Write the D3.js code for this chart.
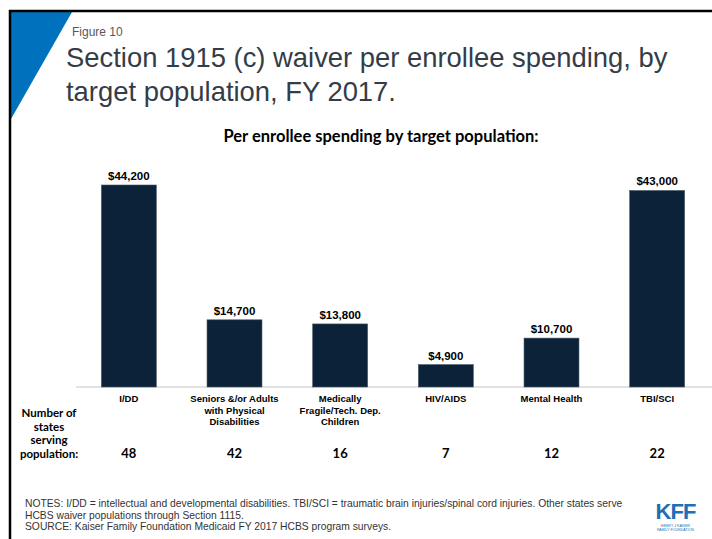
<!DOCTYPE html>
<html>
<head>
    <meta charset="utf-8">
    <title>Figure 10</title>
    <script src="https://cdnjs.cloudflare.com/ajax/libs/d3/7.8.5/d3.min.js"></script>
    <style>
        body { margin: 0; background: #fff; }
        svg { display: block; }
        .arial { font-family: "Liberation Sans", Arial, sans-serif; }
        .calibri { font-family: Lato, "Open Sans", sans-serif; }
    </style>
</head>
<body>
    <svg id="chart" width="712" height="539"></svg>
    <script>
        // chart data
        var categories = ["I/DD", "Seniors &/or Adults|with Physical|Disabilities", "Medically|Fragile/Tech. Dep.|Children", "HIV/AIDS", "Mental Health", "TBI/SCI"]
        var spending = [44200, 14700, 13800, 4900, 10700, 43000]
        var statesServing = [48, 42, 16, 7, 12, 22]
        var notes = [
            "NOTES:  I/DD = intellectual and developmental disabilities. TBI/SCI = traumatic brain injuries/spinal cord injuries. Other states serve",
            "HCBS waiver populations through Section 1115.",
            "SOURCE: Kaiser Family Foundation Medicaid FY 2017 HCBS program surveys."
        ]

        var svg = d3.select("#chart")

        // frame + blue corner
        svg.append("path")
            .attr("d", "M11,12 L72,12 L11,119 Z")
            .style("fill", "#0071bc")
        svg.append("path")
            .attr("d", "M10,539 L10,11 L712,11")
            .style("fill", "none")
            .style("stroke", "black")
            .style("stroke-width", "2.5px")

        svg.append("text").attr("class", "arial")
            .attr("x", 72).attr("y", 36)
            .style("font-size", "12px").style("fill", "#595959")
            .text("Figure 10")

        svg.append("text").attr("class", "arial")
            .attr("x", 66).attr("y", 67)
            .style("font-size", "27.4px").style("fill", "#333d47")
            .text("Section 1915 (c) waiver per enrollee spending, by")
        svg.append("text").attr("class", "arial")
            .attr("x", 66).attr("y", 101)
            .style("font-size", "27.4px").style("fill", "#333d47")
            .text("target population, FY 2017.")

        svg.append("text").attr("class", "calibri")
            .attr("x", 381).attr("y", 142)
            .style("text-anchor", "middle")
            .style("font-size", "16.5px").style("font-weight", "bold")
            .text("Per enrollee spending by target population:")

        // scales
        var x = d3.scaleBand()
            .domain(categories)
            .range([76, 710])
            .paddingInner(0.48)
            .paddingOuter(0.24)

        var y = d3.scaleLinear()
            .domain([0, 44200])
            .range([387, 185])

        var rows = categories.map((c, i) => ({ cat: c, value: spending[i], states: statesServing[i] }))

        svg.append("line")
            .attr("x1", 76).attr("x2", 712)
            .attr("y1", y(0)).attr("y2", y(0))
            .style("stroke", "#d9d9d9")
            .style("stroke-width", "1.5px")

        var barG = svg.append("g").attr("id", "bars")

        barG.selectAll("rect")
            .data(rows)
            .enter().append("rect")
            .attr("x", d => x(d.cat))
            .attr("width", x.bandwidth())
            .attr("y", d => y(d.value))
            .attr("height", d => y(0) - y(d.value))
            .style("fill", "#0b2238")
            .style("stroke", "#4a5866")
            .style("stroke-width", "0.6px")

        barG.selectAll("text.val")
            .data(rows)
            .enter().append("text")
            .attr("class", "val arial")
            .attr("x", d => x(d.cat) + x.bandwidth() / 2)
            .attr("y", d => y(d.value) - 5)
            .style("text-anchor", "middle")
            .style("font-size", "11.5px").style("font-weight", "bold")
            .text(d => "$" + d3.format(",")(d.value))

        // category labels (multi-line)
        var catLabels = barG.selectAll("text.cat")
            .data(rows)
            .enter().append("text")
            .attr("class", "cat arial")
            .attr("y", 402)
            .style("text-anchor", "middle")
            .style("font-size", "9.5px").style("font-weight", "bold")

        catLabels.selectAll("tspan")
            .data(d => d.cat.split("|").map(s => ({ s: s, cx: x(d.cat) + x.bandwidth() / 2 })))
            .enter().append("tspan")
            .attr("x", d => d.cx)
            .attr("dy", (d, i) => i === 0 ? 0 : 11.5)
            .text(d => d.s)

        barG.selectAll("text.states")
            .data(rows)
            .enter().append("text")
            .attr("class", "states calibri")
            .attr("x", d => x(d.cat) + x.bandwidth() / 2)
            .attr("y", 458)
            .style("text-anchor", "middle")
            .style("font-size", "13px").style("font-weight", "bold")
            .text(d => d.states)

        var rowLabel = svg.append("text").attr("class", "calibri")
            .attr("y", 417)
            .style("text-anchor", "middle")
            .style("font-size", "11.5px").style("font-weight", "bold")
        rowLabel.selectAll("tspan")
            .data(["Number of", "states", "serving", "population:"])
            .enter().append("tspan")
            .attr("x", 49)
            .attr("dy", (d, i) => i === 0 ? 0 : 13.5)
            .text(d => d)

        // notes
        svg.append("g").selectAll("text")
            .data(notes)
            .enter().append("text")
            .attr("class", "arial")
            .attr("x", 25)
            .attr("y", (d, i) => 507 + i * 11.5)
            .style("font-size", "10.3px").style("fill", "#333")
            .text(d => d)

        // KFF logo
        var logo = svg.append("g").attr("transform", "translate(653,503)")
        logo.append("text").attr("class", "arial")
            .attr("x", 22.5).attr("y", 16)
            .style("text-anchor", "middle")
            .style("font-size", "22px").style("font-weight", "bold")
            .style("letter-spacing", "-1px")
            .style("fill", "#1e6fb5")
            .text("KFF")
        logo.selectAll("text.small")
            .data(["HENRY J KAISER", "FAMILY FOUNDATION"])
            .enter().append("text")
            .attr("class", "small arial")
            .attr("x", 22.5)
            .attr("y", (d, i) => 24 + i * 4)
            .style("text-anchor", "middle")
            .style("font-size", "3.6px")
            .style("fill", "#1e6fb5")
            .text(d => d)
    </script>
</body>
</html>
